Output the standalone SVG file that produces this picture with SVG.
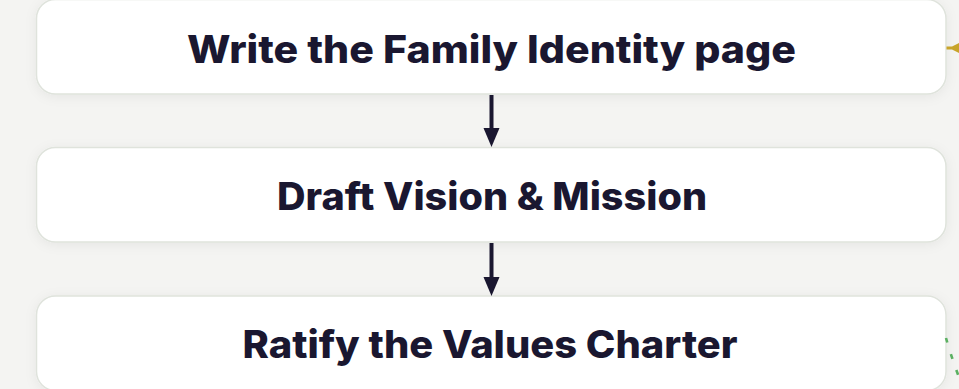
<svg xmlns="http://www.w3.org/2000/svg" width="959" height="389" viewBox="0 0 959 389">
  <defs>
    <filter id="sh" x="-5%" y="-30%" width="110%" height="160%">
      <feDropShadow dx="0" dy="2" stdDeviation="6" flood-color="#000" flood-opacity="0.06"/>
    </filter>
    <style>
      .box { fill: #ffffff; stroke: #dfe3dc; stroke-width: 1.5; filter: url(#sh); }
      .lbl { font-family: "Inter", "Liberation Sans", sans-serif; font-weight: 800; font-size: 38px; fill: #1a1730; text-anchor: middle; }
      .flow { stroke: #1a1730; stroke-width: 4; fill: none; }
      .head { fill: #1a1730; }
    </style>
  </defs>
  <rect width="959" height="389" fill="#f4f4f2"/>

  <g id="node-identity">
    <rect class="box" x="36.5" y="-0.5" width="909.5" height="94.5" rx="19"/>
    <text class="lbl" x="491.5" y="62.5" textLength="609" lengthAdjust="spacingAndGlyphs">Write the Family Identity page</text>
  </g>
  <g id="node-vision">
    <rect class="box" x="36.5" y="147.5" width="909.5" height="94.5" rx="19"/>
    <text class="lbl" x="492" y="209.5" textLength="430" lengthAdjust="spacingAndGlyphs">Draft Vision &amp; Mission</text>
  </g>
  <g id="node-values">
    <rect class="box" x="36.5" y="296" width="909.5" height="94.5" rx="19"/>
    <text class="lbl" x="490" y="358" textLength="495" lengthAdjust="spacingAndGlyphs">Ratify the Values Charter</text>
  </g>

  <g id="connectors">
    <line class="flow" x1="491.5" y1="95" x2="491.5" y2="130"/>
    <path class="head" d="M483.5,128 L499.5,128 L491.5,147 Z"/>
    <line class="flow" x1="491.5" y1="243" x2="491.5" y2="279"/>
    <path class="head" d="M483.5,277 L499.5,277 L491.5,296 Z"/>
    <path d="M946.5,46.5 L952,46.5 L959,43 L959,53 L952,49.5 L946.5,49.5 Z" fill="#c8a42a"/>
    <path d="M946,338 Q951,356 960,380" stroke="#5bb062" stroke-width="2.6" stroke-dasharray="5 12" fill="none"/>
  </g>
</svg>
